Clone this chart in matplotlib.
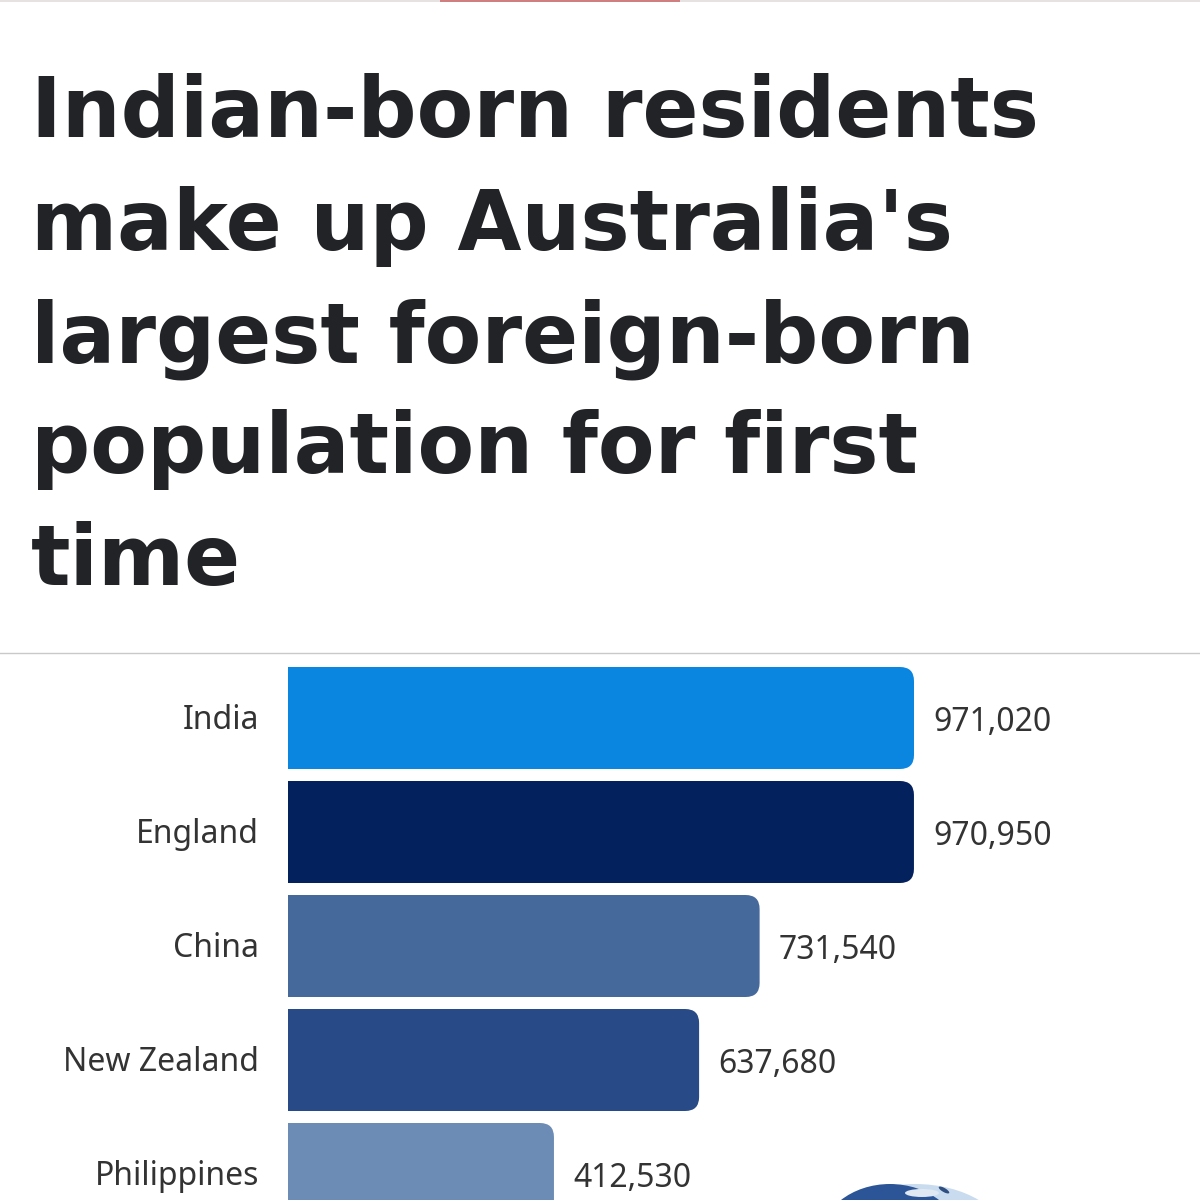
import matplotlib
matplotlib.use("Agg")
import matplotlib.pyplot as plt
from matplotlib.path import Path
from matplotlib.patches import PathPatch, Ellipse, Rectangle

countries = ["India", "England", "China", "New Zealand", "Philippines"]
residents = [971020, 970950, 731540, 637680, 412530]
value_labels = ["971,020", "970,950", "731,540", "637,680", "412,530"]
bar_colors = ["#0a86e0", "#03215c", "#46699c", "#284a86", "#6c8cb5"]
title_lines = ["Indian-born residents", "make up Australia's", "largest foreign-born",
               "population for first", "time"]
title_baselines = [137, 250, 362, 473, 585]

W, H = 1200, 1200
fig = plt.figure(figsize=(12, 12), dpi=100, facecolor="white")

# page layer in pixel coords
page = fig.add_axes([0, 0, 1, 1])
page.set_xlim(0, W)
page.set_ylim(H, 0)
page.axis("off")

# faint red strip at the very top
page.add_patch(Rectangle((0, 0), W, 2, color="#e6e2e2", lw=0))
page.add_patch(Rectangle((440, 0), 240, 2, color="#cf7f7f", lw=0))
page.plot([0, W], [653, 653], color="#c9c9c9", lw=1)

for line, y in zip(title_lines, title_baselines):
    page.text(31, y, line, family="DejaVu Sans", weight="bold", fontsize=59.5,
              color="#222326", va="baseline", ha="left")

# globe just poking in at the bottom
page.add_patch(Ellipse((915, 1240), 182, 112, color="#c9dcef", lw=0))
page.add_patch(Ellipse((890, 1240), 140, 112, color="#2b5596", lw=0))
page.add_patch(Ellipse((922, 1193), 34, 8, color="#dfe8f3", lw=0))
page.add_patch(Ellipse((944, 1190), 12, 4, angle=30, color="#2f4f80", lw=0))

# chart: x axis runs from the bar base, pitch 114 px per row
ax = fig.add_axes([288 / W, 0, (1200 - 288) / W, (1200 - 661) / H])
ax.set_xlim(0, 912 / (626 / 971020))
ax.set_ylim(4.228, -0.5)
ax.axis("off")
ax.patch.set_alpha(0)

bar_h = 102 / 114
rx = 14 / (626 / 971020)
ry = 14 / 114


def right_rounded(v, i):
    top, bot = i - bar_h / 2, i + bar_h / 2
    verts = [(0, top), (v - rx, top), (v, top), (v, top + ry), (v, bot - ry),
             (v, bot), (v - rx, bot), (0, bot), (0, top)]
    codes = [Path.MOVETO, Path.LINETO, Path.CURVE3, Path.CURVE3, Path.LINETO,
             Path.CURVE3, Path.CURVE3, Path.LINETO, Path.CLOSEPOLY]
    return Path(verts, codes)


for i, (name, v, lab, col) in enumerate(zip(countries, residents, value_labels, bar_colors)):
    ax.add_patch(PathPatch(right_rounded(v, i), facecolor=col, edgecolor="none"))
    ax.annotate(name, (0, i), xytext=(-29, -2), textcoords="offset pixels", ha="right", va="center",
                family="Noto Sans", fontsize=23, color="#333333", annotation_clip=False)
    ax.annotate(lab, (v, i), xytext=(19, -4), textcoords="offset pixels", ha="left", va="center",
                family="Noto Sans", fontsize=23, color="#333333", annotation_clip=False)

fig.savefig("out.png", dpi=100)
